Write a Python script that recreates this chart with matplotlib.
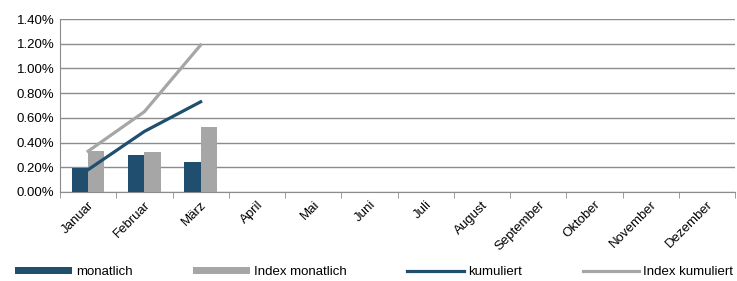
import numpy as np
import matplotlib
matplotlib.use("Agg")
import matplotlib.pyplot as plt
from matplotlib.ticker import FuncFormatter

# ==========================
# Data
# ==========================
months = ["Januar", "Februar", "März", "April", "Mai", "Juni", "Juli",
          "August", "September", "Oktober", "November", "Dezember"]

monatlich = [0.19, 0.30, 0.24]
index_monatlich = [0.33, 0.32, 0.53]
kumuliert = [0.18, 0.49, 0.73]
index_kumuliert = [0.33, 0.65, 1.19]

DARK = "#1F4E6E"
GREY = "#A6A6A6"
GRID = "#8C8C8C"

plt.rcParams["font.family"] = ["Liberation Sans", "DejaVu Sans"]
plt.rcParams["font.size"] = 9.5

# ==========================
# Plot
# ==========================
fig = plt.figure(figsize=(7.37, 2.81), dpi=100)
ax = fig.add_axes([0.0814, 0.317, 0.916, 0.615])

x = np.arange(len(months))
n = len(monatlich)
w = 0.29

b1 = ax.bar(x[:n] - w / 2, monatlich, width=w, color=DARK, label="monatlich", zorder=3)
b2 = ax.bar(x[:n] + w / 2, index_monatlich, width=w, color=GREY, label="Index monatlich", zorder=3)
l1, = ax.plot(x[:n], kumuliert, color=DARK, lw=2.3, label="kumuliert", zorder=4)
l2, = ax.plot(x[:n], index_kumuliert, color=GREY, lw=2.3, label="Index kumuliert", zorder=4)

ax.set_xlim(-0.5, len(months) - 0.5)
ax.set_ylim(0, 1.4)
ax.set_yticks(np.arange(0, 1.41, 0.2))
ax.yaxis.set_major_formatter(FuncFormatter(lambda v, _: f"{v:.2f}%"))
ax.grid(axis="y", color=GRID, lw=1, zorder=0)

ax.set_xticks(x)
ax.set_xticklabels(months, rotation=45, ha="right", rotation_mode="anchor")
ax.set_xticks(np.arange(-0.5, len(months)), minor=True)
ax.tick_params(axis="x", which="major", length=0, pad=5)
ax.tick_params(axis="x", which="minor", length=4, color=GRID, direction="out")
ax.tick_params(axis="y", length=0, pad=4)

for side in ["top", "right"]:
    ax.spines[side].set_visible(False)
ax.spines["left"].set_color(GRID)
ax.spines["bottom"].set_color(GRID)

fig.legend([b1, b2, l1, l2],
           ["monatlich", "Index monatlich", "kumuliert", "Index kumuliert"],
           loc="center", bbox_to_anchor=(0.508, 0.032), ncol=4, frameon=False,
           handlelength=4.3, handleheight=0.5, columnspacing=4.6, handletextpad=0.3)

fig.savefig("out.png", dpi=100)
